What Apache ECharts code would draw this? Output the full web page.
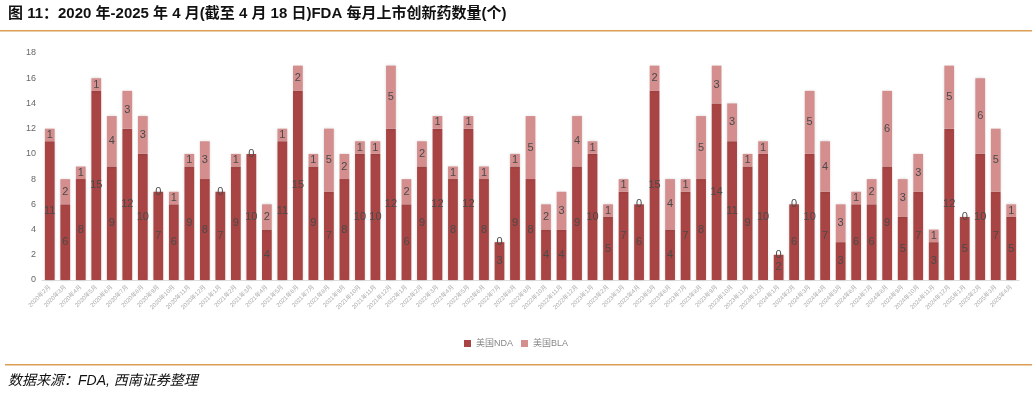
<!DOCTYPE html>
<html>
<head>
<meta charset="utf-8">
<script src="https://cdn.jsdelivr.net/npm/echarts@6/dist/echarts.min.js"></script>
<style>
html,body{margin:0;padding:0;background:#fff;}
#main{width:1032px;height:396px;}
</style>
</head>
<body>
<div id="main"></div>
<script>
const months = [
  '2020年2月','2020年3月','2020年4月','2020年5月','2020年6月','2020年7月','2020年8月','2020年9月','2020年10月','2020年11月','2020年12月',
  '2021年1月','2021年2月','2021年3月','2021年4月','2021年5月','2021年6月','2021年7月','2021年8月','2021年9月','2021年10月','2021年11月','2021年12月',
  '2022年1月','2022年2月','2022年3月','2022年4月','2022年5月','2022年6月','2022年7月','2022年8月','2022年9月','2022年10月','2022年11月','2022年12月',
  '2023年1月','2023年2月','2023年3月','2023年4月','2023年5月','2023年6月','2023年7月','2023年8月','2023年9月','2023年10月','2023年11月','2023年12月',
  '2024年1月','2024年2月','2024年3月','2024年4月','2024年5月','2024年6月','2024年7月','2024年8月','2024年9月','2024年10月','2024年11月','2024年12月',
  '2025年1月','2025年2月','2025年3月','2025年4月'
];
const ndaValues = [
  11,6,8,15,9,12,10,7,6,9,8,
  7,9,10,4,11,15,9,7,8,10,10,12,
  6,9,12,8,12,8,3,9,8,4,4,9,
  10,5,7,6,15,4,7,8,14,11,9,10,
  2,6,10,7,3,6,6,9,5,7,3,12,
  5,10,7,5
];
const blaValues = [
  1,2,1,1,4,3,3,0,1,1,3,
  0,1,0,2,1,2,1,5,2,1,1,5,
  2,2,1,1,1,1,0,1,5,2,3,4,
  1,1,1,0,2,4,1,5,3,3,1,1,
  0,0,5,4,3,1,2,6,3,3,1,5,
  0,6,5,1
];
const yTicks = {min: 0, max: 18, interval: 2};
const seriesNames = ['美国NDA', '美国BLA'];

const chart = echarts.init(document.getElementById('main'), null, {renderer: 'canvas'});
const labelStyle = {show: true, position: 'inside', fontSize: 11, color: '#4a4a4a', fontFamily: 'Liberation Sans, Arial, sans-serif'};
const shadow = {shadowBlur: 3, shadowColor: 'rgba(0,0,0,0.18)'};
chart.setOption({
  animation: false,
  textStyle: {fontFamily: 'Liberation Sans, "Noto Sans CJK SC", sans-serif'},
  graphic: [
    {type: 'text', left: 8, top: 6, style: {text: '图 11：2020 年-2025 年 4 月(截至 4 月 18 日)FDA 每月上市创新药数量(个)', font: 'bold 15px "Liberation Sans", "Noto Sans CJK SC", sans-serif', fill: '#111'}},
    {type: 'rect', shape: {x: 0, y: 30, width: 1032, height: 1.5}, style: {fill: '#dc9d55'}},
    {type: 'rect', shape: {x: 5, y: 364, width: 1027, height: 1.5}, style: {fill: '#dc9d55'}},
    {type: 'text', left: 8, top: 374, style: {text: '数据来源：FDA, 西南证券整理', font: 'italic 14px "Liberation Sans", "Noto Sans CJK SC", sans-serif', fill: '#111'}}
  ],
  legend: {
    data: seriesNames,
    top: 334, left: 'center',
    itemWidth: 7, itemHeight: 7, itemGap: 8,
    icon: 'rect',
    textStyle: {fontSize: 9, color: '#888'}
  },
  grid: {left: 42, right: 13, top: 53, bottom: 116, containLabel: false},
  xAxis: {
    type: 'category', data: months,
    axisLine: {lineStyle: {color: '#ddd'}},
    axisTick: {show: false},
    axisLabel: {rotate: 45, fontSize: 6, color: '#aaa', interval: 0, margin: 6}
  },
  yAxis: {
    type: 'value', min: yTicks.min, max: yTicks.max, interval: yTicks.interval,
    axisLine: {show: false}, axisTick: {show: false},
    splitLine: {show: false},
    axisLabel: {fontSize: 9, color: '#666', margin: 6}
  },
  series: [
    {name: seriesNames[0], type: 'bar', stack: 'a', data: ndaValues, barWidth: '63%',
     itemStyle: Object.assign({color: '#a84443'}, shadow), label: labelStyle},
    {name: seriesNames[1], type: 'bar', stack: 'a', data: blaValues, barWidth: '63%',
     itemStyle: Object.assign({color: '#d48e8e'}, shadow), label: labelStyle}
  ]
});
</script>
</body>
</html>
